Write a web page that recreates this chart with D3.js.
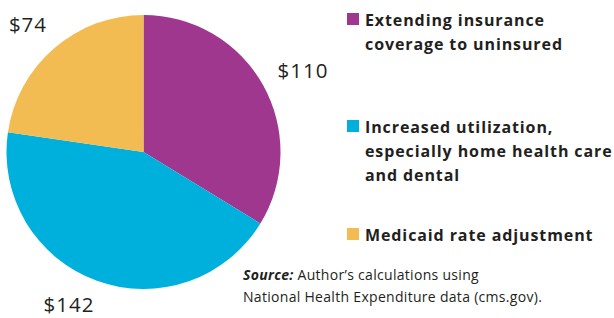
<!DOCTYPE html>
<html><head><meta charset="utf-8">
<script src="https://cdn.jsdelivr.net/npm/d3@7/dist/d3.min.js"></script>
<style>
body{margin:0;background:#fff;}
svg{display:block;}
text{fill:#231f20;}
</style></head>
<body><svg id="c" width="614" height="318"></svg>
<script>
const categories = ["Extending insurance coverage to uninsured", "Increased utilization, especially home health care and dental", "Medicaid rate adjustment"];
const values = [110, 142, 74];
const valueLabels = ["$110", "$142", "$74"];
const legendLines = [["Extending insurance", "coverage to uninsured"], ["Increased utilization,", "especially home health care", "and dental"], ["Medicaid rate adjustment"]];
const colors = ["#a0378f", "#00b0dc", "#f2bc52"];

const svg = d3.select("#c");
const cx = 143.5, cy = 152, R = 137;
const pie = d3.pie().sort(null).value(d => d)(values);
const arc = d3.arc().innerRadius(0).outerRadius(R);
const labelArc = d3.arc().innerRadius(172).outerRadius(172);
const nudge = [[9.5, 2], [-16, -10], [-3, 2]];
const g = svg.append("g").attr("transform", `translate(${cx},${cy})`);
g.selectAll("path").data(pie).join("path").attr("d", arc).attr("fill", (d, i) => colors[i]);
g.selectAll("text.v").data(pie).join("text").attr("class", "v")
  .attr("transform", (d, i) => { const c = labelArc.centroid(d); return `translate(${c[0] + nudge[i][0]},${c[1] + nudge[i][1]})`; })
  .attr("text-anchor", "middle").attr("dominant-baseline", "central")
  .style("font-family", "'Open Sans', sans-serif").style("font-size", "20.5px").style("letter-spacing", "1px")
  .text((d, i) => valueLabels[i]);

const legTops = [26, 133, 241];
const lh = 24;
const lg = svg.append("g");
legendLines.forEach((lines, i) => {
  lg.append("rect").attr("x", 347).attr("y", legTops[i] - 13).attr("width", 12).attr("height", 12).attr("fill", colors[i]);
  lines.forEach((t, j) => {
    lg.append("text").attr("x", 365).attr("y", legTops[i] + j * lh)
      .style("font-family", "'Open Sans', sans-serif").style("font-weight", "700")
      .style("font-size", "16px").style("letter-spacing", "0.9px").text(t);
  });
});

const src = svg.append("text").attr("x", 243).attr("y", 280)
  .style("font-family", "'Open Sans', sans-serif").style("font-size", "14px").style("letter-spacing", "0.3px");
src.append("tspan").style("font-weight", "700").style("font-style", "italic").text("Source:");
src.append("tspan").text(" Author\u2019s calculations using");
svg.append("text").attr("x", 243).attr("y", 302)
  .style("font-family", "'Open Sans', sans-serif").style("font-size", "14px").style("letter-spacing", "0.3px")
  .text("National Health Expenditure data (cms.gov).");
</script></body></html>
